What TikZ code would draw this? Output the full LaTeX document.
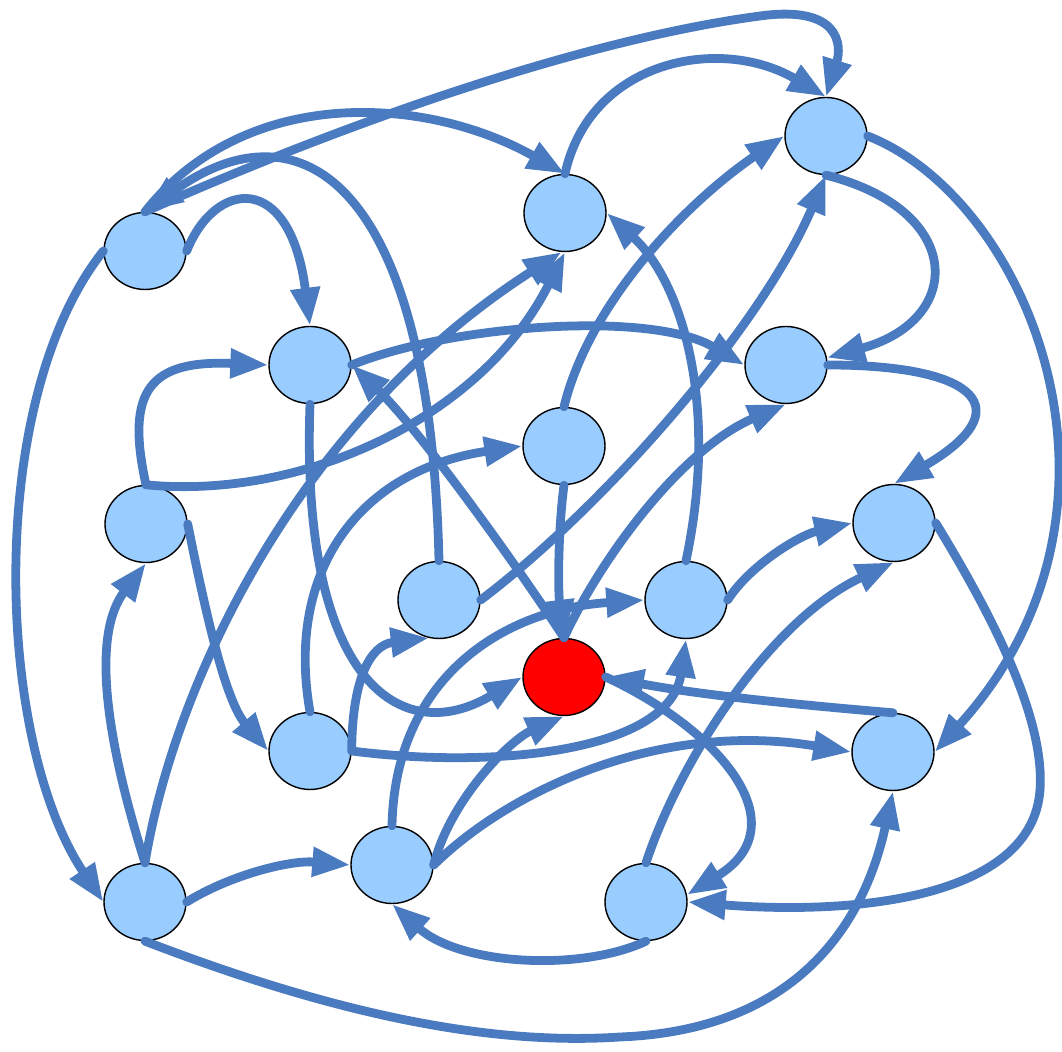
\documentclass[tikz,border=0pt]{standalone}
\usepackage{tikz}
\usetikzlibrary{arrows.meta,shapes.geometric}
\definecolor{kblau}{HTML}{4A7AC0}
\definecolor{hblau}{HTML}{99CCFF}
\definecolor{zielrot}{HTML}{FF0000}
\tikzset{
  knoten/.style={ellipse,draw=black,line width=0.4pt,fill=hblau,inner sep=0pt,minimum width=8.2mm,minimum height=7.7mm},
  ziel/.style={knoten,fill=zielrot},
  kante/.style={-{Triangle[length=3.8mm,width=2.8mm]},kblau,line width=2.5pt,line cap=round},
}
\begin{document}
\begin{tikzpicture}[x=1cm,y=-1cm]
  \useasboundingbox (0,0) rectangle (10.62,10.52);
  \node[knoten] (k1) at (1.45,2.51) {};
  \node[knoten] (k2) at (5.65,2.13) {};
  \node[knoten] (k3) at (8.26,1.36) {};
  \node[knoten] (k4) at (3.10,3.65) {};
  \node[knoten] (k5) at (7.86,3.65) {};
  \node[knoten] (k6) at (5.64,4.46) {};
  \node[knoten] (k7) at (1.46,5.24) {};
  \node[knoten] (k8) at (8.94,5.23) {};
  \node[knoten] (k9) at (4.39,6.00) {};
  \node[knoten] (k10) at (6.86,6.00) {};
  \node[ziel] (k11) at (5.64,6.77) {};
  \node[knoten] (k12) at (3.10,7.51) {};
  \node[knoten] (k13) at (8.93,7.52) {};
  \node[knoten] (k14) at (3.92,8.65) {};
  \node[knoten] (k15) at (1.45,9.02) {};
  \node[knoten] (k16) at (6.46,9.02) {};
  \draw[kante] (k1.north) .. controls (2.45,0.85) and (4.25,0.95) .. (k2.north);
  \draw[kante] (k9.north) .. controls (4.30,1.80) and (3.00,1.00) .. (k1.north);
  \draw[kante] (k1.north) .. controls (3.40,1.25) and (5.80,0.40) .. (7.60,0.16) .. controls (8.40,0.05) and (8.42,0.45) .. (k3.north);
  \draw[kante] (k1.east) .. controls (2.15,1.80) and (2.90,1.70) .. (k4.north);
  \draw[kante] (k1.west) .. controls (-0.15,4.00) and (-0.05,7.40) .. (k15.west);
  \draw[kante] (k2.north) .. controls (5.90,0.60) and (7.20,0.35) .. (k3.north);
  \draw[kante] (k3.east) .. controls (10.30,2.00) and (11.55,5.10) .. (k13.east);
  \draw[kante] (k3.south) .. controls (9.65,2.10) and (9.65,3.20) .. (k5.10);
  \draw[kante] (k6.north) .. controls (5.90,3.00) and (6.90,2.00) .. (k3.west);
  \draw[kante] (k9.east) .. controls (6.00,5.10) and (7.60,3.30) .. (k3.south);
  \draw[kante] (k10.north) .. controls (7.20,4.00) and (6.80,2.80) .. (k2.east);
  \draw[kante] (k7.north) .. controls (3.00,5.00) and (4.80,4.20) .. (k2.south);
  \draw[kante] (k15.north) .. controls (1.75,6.80) and (3.00,4.20) .. (k2.265);
  \draw[kante] (k7.north) .. controls (1.25,3.90) and (1.50,3.60) .. (k4.west);
  \draw[kante] (k4.east) .. controls (4.50,3.25) and (6.50,3.10) .. (k5.west);
  \draw[kante] (k11.north) .. controls (5.20,5.70) and (4.20,4.30) .. (k4.east);
  \draw[kante] (k4.south) .. controls (3.00,6.80) and (4.00,7.50) .. (k11.west);
  \draw[kante] (k5.east) .. controls (9.80,3.65) and (10.20,4.10) .. (k8.north);
  \draw[kante] (k11.north) .. controls (6.00,5.60) and (6.80,4.50) .. (k5.south);
  \draw[kante] (k6.south) .. controls (5.58,5.30) and (5.58,5.90) .. (k11.north);
  \draw[kante] (k12.north) .. controls (2.85,5.70) and (3.60,4.70) .. (k6.west);
  \draw[kante] (k7.east) .. controls (2.05,6.10) and (2.25,7.00) .. (k12.west);
  \draw[kante] (k15.north) .. controls (1.00,7.20) and (0.95,6.30) .. (k7.south);
  \draw[kante] (k8.east) .. controls (9.95,6.20) and (10.45,7.20) .. (10.40,7.90) .. controls (10.32,9.00) and (8.50,9.15) .. (k16.east);
  \draw[kante] (k10.east) .. controls (7.50,5.65) and (8.00,5.35) .. (k8.west);
  \draw[kante] (k16.north) .. controls (6.80,7.60) and (7.70,6.20) .. (k8.south);
  \draw[kante] (k12.east) .. controls (3.52,6.80) and (3.70,6.45) .. (k9.255);
  \draw[kante] (k12.east) .. controls (5.00,7.70) and (6.70,7.50) .. (k10.south);
  \draw[kante] (k13.north) .. controls (8.00,7.05) and (7.00,6.95) .. (k11.east);
  \draw[kante] (k11.east) .. controls (7.20,7.30) and (8.00,8.25) .. (k16.10);
  \draw[kante] (k14.east) .. controls (4.50,8.00) and (5.10,7.40) .. (k11.south);
  \draw[kante] (k14.east) .. controls (5.10,7.90) and (6.60,7.20) .. (k13.west);
  \draw[kante] (k15.south) .. controls (3.50,10.20) and (5.00,10.45) .. (6.20,10.37) .. controls (8.00,10.30) and (8.65,9.20) .. (k13.south);
  \draw[kante] (k15.east) .. controls (2.30,8.75) and (2.90,8.60) .. (k14.west);
  \draw[kante] (k16.south) .. controls (5.80,9.72) and (4.60,9.65) .. (k14.south);
  \draw[kante] (k14.north) .. controls (3.95,6.80) and (5.00,6.10) .. (k10.west);
\end{tikzpicture}
\end{document}
